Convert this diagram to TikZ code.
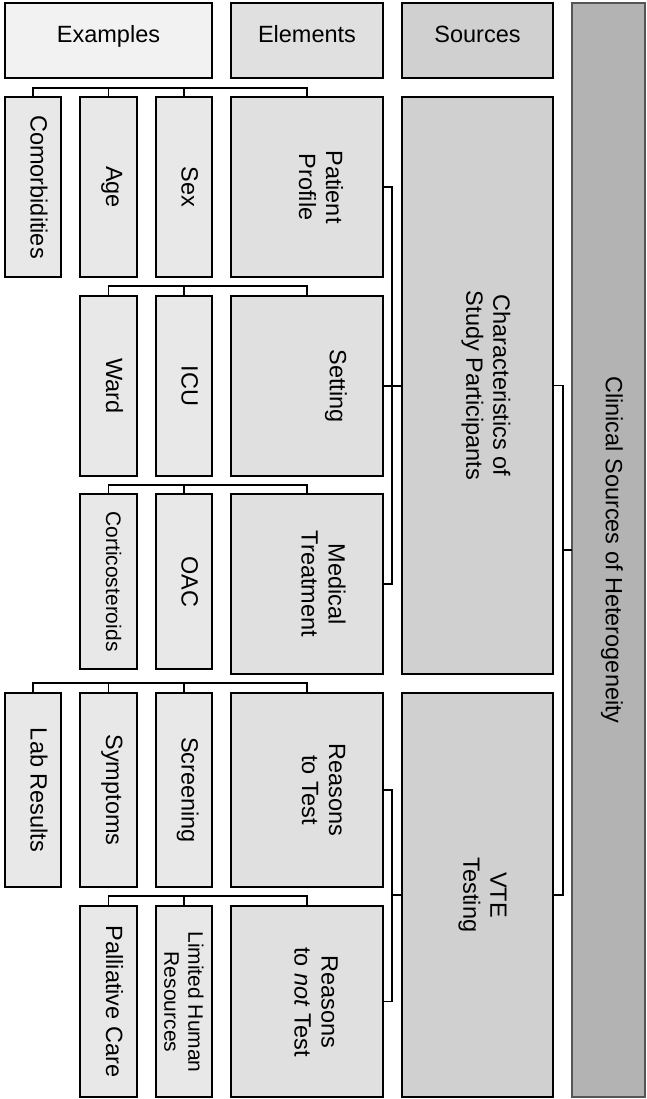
\documentclass[tikz,border=0pt]{standalone}
\usepackage{fontspec}
\setmainfont{Liberation Sans}
\definecolor{exhead}{HTML}{F2F2F2}
\definecolor{exfill}{HTML}{E8E8E8}
\definecolor{elfill}{HTML}{E0E0E0}
\definecolor{sofill}{HTML}{D0D0D0}
\definecolor{clfill}{HTML}{B3B3B3}
\definecolor{clline}{HTML}{555555}
\tikzset{
  box/.style={draw=black, line width=1.6pt, inner sep=0pt, outer sep=0pt},
  conn/.style={draw=black, line width=1.4pt},
  lbl/.style={rotate=-90, align=center, inner sep=0pt, font=\fontsize{23.5}{27}\selectfont},
  onelbl/.style={lbl, text height=0.75em, text depth=0.25em},
  smalllbl/.style={rotate=-90, align=center, inner sep=0pt, font=\fontsize{21}{24}\selectfont},
  headlbl/.style={inner sep=0pt, text height=0.75em, text depth=0.25em, font=\fontsize{23.5}{27}\selectfont},
}
\newcommand{\mkbox}[6]{\node[box, fill=#6, minimum width={#4-#2}, minimum height={#5-#3}] (#1) at ({(#2+#4)/2},{(#3+#5)/2}) {};}
\begin{document}
\begin{tikzpicture}[x=1pt,y=-1pt]
\useasboundingbox (0,0) rectangle (647,1099);
% headers
\mkbox{hex}{5}{3}{212}{78}{exhead}
\mkbox{hel}{231}{3}{383}{78}{elfill}
\mkbox{hso}{402}{3}{553}{78}{sofill}
\node[box, draw=clline, fill=clfill, minimum width=73, minimum height=1094] (clin) at (608.5,550) {};
\node[headlbl] (hext) at (hex.center) {Examples};
\node[headlbl] (helt) at (hel.center) {Elements};
\node[headlbl] (hsot) at (hso.center) {Sources};
% row 1
\mkbox{com}{5}{97}{61}{277}{exfill}
\mkbox{age}{80}{97}{137}{277}{exfill}
\mkbox{sex}{156}{97}{212}{277}{exfill}
\mkbox{pp}{231}{97}{383}{277}{elfill}
% row 2
\mkbox{ward}{80}{296}{137}{476}{exfill}
\mkbox{icu}{156}{296}{212}{476}{exfill}
\mkbox{set}{231}{296}{383}{476}{elfill}
% row 3
\mkbox{cort}{80}{494}{137}{669}{exfill}
\mkbox{oac}{156}{494}{212}{669}{exfill}
\mkbox{med}{231}{494}{383}{674}{elfill}
% row 4
\mkbox{lab}{5}{693}{61}{887}{exfill}
\mkbox{symp}{80}{693}{137}{887}{exfill}
\mkbox{scr}{156}{693}{212}{887}{exfill}
\mkbox{rt}{231}{693}{383}{887}{elfill}
% row 5
\mkbox{pall}{80}{906}{137}{1097}{exfill}
\mkbox{lim}{156}{906}{212}{1097}{exfill}
\mkbox{rnt}{231}{906}{383}{1097}{elfill}
% sources
\mkbox{char}{402}{97}{553}{674}{sofill}
\mkbox{vte}{402}{693}{553}{1097}{sofill}
% example labels
\node[onelbl] (comt) at (com.center) {Comorbidities};
\node[onelbl] (aget) at (age.center) {Age};
\node[onelbl] (sext) at (sex.center) {Sex};
\node[onelbl] (wardt) at (ward.center) {Ward};
\node[onelbl] (icut) at (icu.center) {ICU};
\node[smalllbl, text height=0.75em, text depth=0.25em] (cortt) at (cort.center) {Corticosteroids};
\node[onelbl] (oact) at (oac.center) {OAC};
\node[onelbl] (labt) at (lab.center) {Lab Results};
\node[onelbl] (sympt) at (symp.center) {Symptoms};
\node[onelbl] (scrt) at (scr.center) {Screening};
\node[onelbl] (pallt) at (pall.center) {Palliative Care};
\node[smalllbl] (limt) at (184,1002) {Limited Human\\Resources};
% element labels
\node[lbl] (ppt) at (321,187) {Patient\\Profile};
\node[lbl] (sett) at (336,386) {Setting};
\node[lbl] (medt) at (323.5,584) {Medical\\Treatment};
\node[lbl] (rtt) at (323.5,790) {Reasons\\to Test};
\node[lbl] (rntt) at (316,1002) {Reasons\\to \textit{not} Test};
% source labels
\node[lbl] (chart) at (486,385.5) {Characteristics of\\Study Participants};
\node[lbl] (vtet) at (482.5,895) {VTE\\Testing};
\node[lbl] (clint) at (612,550) {Clinical Sources of Heterogeneity};
% trees: elements to examples
\draw[conn] (pp.north) -- ++(0,-9) -| (com.north);
\draw[conn] (age.north) -- ++(0,-9);
\draw[conn] (sex.north) -- ++(0,-9);
\draw[conn] (set.north) -- ++(0,-10) -| (ward.north);
\draw[conn] (icu.north) -- ++(0,-10);
\draw[conn] (med.north) -- ++(0,-9) -| (cort.north);
\draw[conn] (oac.north) -- ++(0,-9);
\draw[conn] (rt.north) -- ++(0,-10) -| (lab.north);
\draw[conn] (symp.north) -- ++(0,-10);
\draw[conn] (scr.north) -- ++(0,-10);
\draw[conn] (rnt.north) -- ++(0,-10) -| (pall.north);
\draw[conn] (lim.north) -- ++(0,-10);
% elements to sources
\draw[conn] (pp.east) -- ++(9,0) |- (med.east);
\draw[conn] (set.east) -- (set.east -| char.west);
\draw[conn] (rt.east) -- ++(9,0) |- (rnt.east);
\draw[conn] (vte.west) -- ++(-10,0);
% sources to clinical
\draw[conn] (char.east) -- ++(10,0) |- (vte.east);
\draw[conn] (clin.west) -- ++(-9,0);
\end{tikzpicture}
\end{document}
